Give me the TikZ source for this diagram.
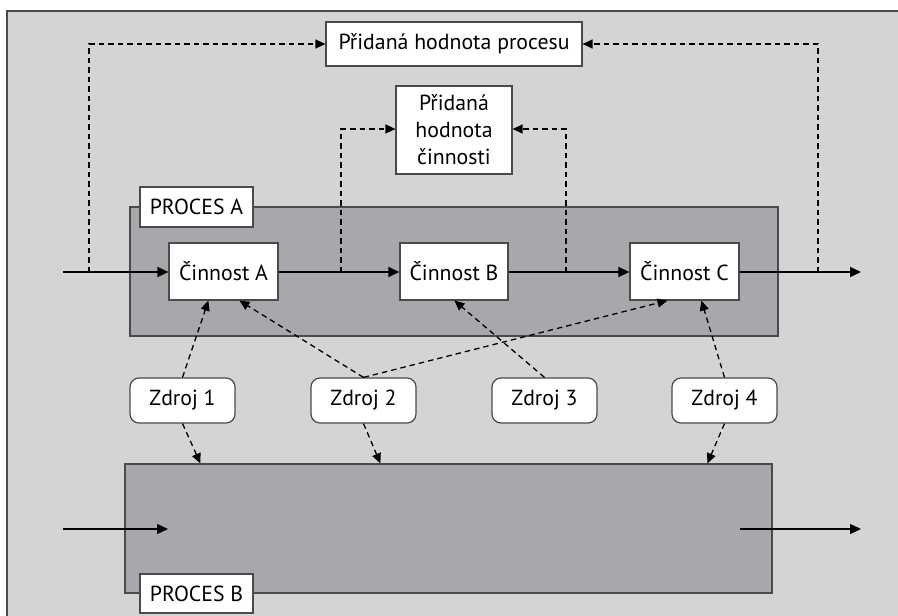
\documentclass[tikz,border=0pt]{standalone}
\usepackage{fontspec}
\setmainfont{PT Sans}
\usetikzlibrary{arrows.meta,calc}
\definecolor{bgl}{HTML}{D3D4D6}
\definecolor{bgd}{HTML}{A7A8AB}
\definecolor{edge}{HTML}{4A4A4A}
\begin{document}
\begin{tikzpicture}[x=1pt,y=-1pt,
  font=\fontsize{21.8}{27}\selectfont,
  wbox/.style={draw=edge,line width=1.2pt,fill=white,inner sep=0pt,align=center},
  zbox/.style={wbox,rounded corners=9pt},
  pbox/.style={draw=edge,line width=1.2pt,fill=bgd,inner sep=0pt},
  flow/.style={line width=1.5pt,-{Triangle[length=11pt,width=10pt]}},
  dflow/.style={line width=1.3pt,dash pattern=on 5.5pt off 4pt,-{Triangle[length=10pt,width=9pt]}}]
\useasboundingbox (0,0) rectangle (898,616);
\clip (0,0) rectangle (898,616);
\fill[white] (0,0) rectangle (898,616);
\filldraw[fill=bgl,draw=edge,line width=1.5pt] (7,11) rectangle (910,630);
% process boxes
\node[pbox,minimum width=648pt,minimum height=129pt] (procA) at (454,271.5) {};
\node[pbox,minimum width=647pt,minimum height=129pt] (procB) at (448.5,528.5) {};
\node[wbox,minimum width=113pt,minimum height=40pt] (labA) at (196.5,207) {PROCES A};
\node[wbox,minimum width=113pt,minimum height=39pt] (labB) at (196.5,593.5) {PROCES B};
% value boxes
\node[wbox,minimum width=256pt,minimum height=44pt] (hp) at (454,44) {Přidaná hodnota procesu};
\node[wbox,minimum width=116pt,minimum height=88pt] (hc) at (454,130) {Přidaná\\hodnota\\činnosti};
% activities
\node[wbox,minimum width=109pt,minimum height=57pt] (ca) at (223.5,271.5) {Činnost A};
\node[wbox,minimum width=108pt,minimum height=57pt] (cb) at (454,271.5) {Činnost B};
\node[wbox,minimum width=109pt,minimum height=57pt] (cc) at (684.5,271.5) {Činnost C};
% resources
\node[zbox,minimum width=105pt,minimum height=45pt] (z1) at (182.5,400.5) {Zdroj 1};
\node[zbox,minimum width=105pt,minimum height=45pt] (z2) at (363.5,400.5) {Zdroj 2};
\node[zbox,minimum width=105pt,minimum height=45pt] (z3) at (544.5,400.5) {Zdroj 3};
\node[zbox,minimum width=105pt,minimum height=45pt] (z4) at (724.5,400.5) {Zdroj 4};
% coordinates
\coordinate (inA) at (63,272);
\coordinate (outA) at (861,272);
\coordinate (inB) at (63,529);
\coordinate (tipB) at (168,529);
\coordinate (startB) at (740,529);
\coordinate (outB) at (861,529);
\coordinate (br1) at (89,272);
\coordinate (br2) at (341,272);
\coordinate (br3) at (566,272);
\coordinate (br4) at (818,272);
% main flow
\draw[flow] (inA) -- (inA -| ca.west);
\draw[flow] (ca.east |- inA) -- (inA -| cb.west);
\draw[flow] (cb.east |- inA) -- (inA -| cc.west);
\draw[flow] (cc.east |- inA) -- (outA);
\draw[flow] (inB) -- (tipB);
\draw[flow] (startB) -- (outB);
% value dashed
\draw[dflow] (br1) |- (hp.west);
\draw[dflow] (br4) |- (hp.east);
\draw[dflow] (br2) |- (hc.west |- 0,129);
\draw[dflow] (br3) |- (hc.east |- 0,129);
% resources dashed
\draw[dflow] (z1.north) -- ([xshift=40pt]ca.south west);
\draw[dflow] (z2.north) -- ([xshift=71pt]ca.south west);
\draw[dflow] (z2.north) -- ([xshift=38pt]cc.south west);
\draw[dflow] (z3.north) -- ([xshift=55pt]cb.south west);
\draw[dflow] (z4.north) -- ([xshift=72pt]cc.south west);
\draw[dflow] (z1.south) -- ([xshift=76pt]procB.north west);
\draw[dflow] (z2.south) -- ([xshift=256pt]procB.north west);
\draw[dflow] (z4.south) -- ([xshift=583pt]procB.north west);
\end{tikzpicture}
\end{document}
